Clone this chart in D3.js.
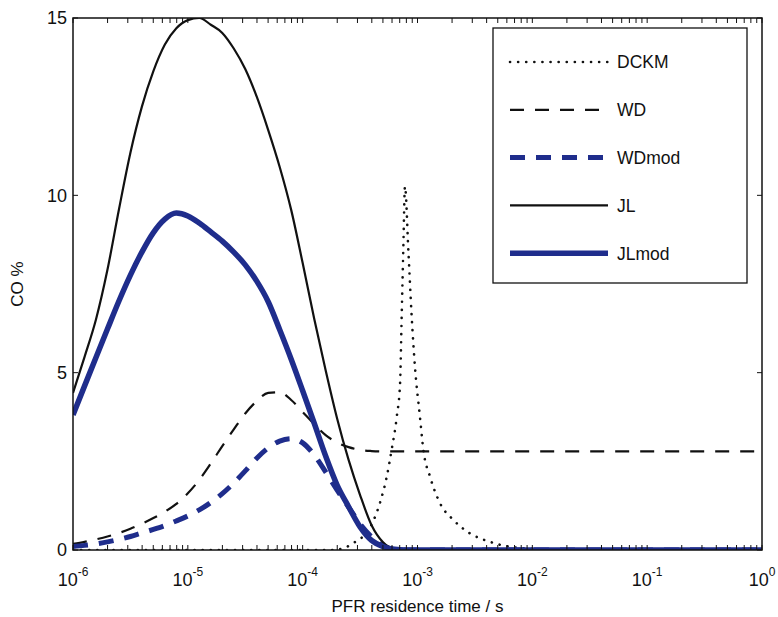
<!DOCTYPE html>
<html>
<head>
<meta charset="utf-8">
<script src="https://cdn.jsdelivr.net/npm/d3@7"></script>
<style>
  html, body { margin: 0; padding: 0; background: #fff; }
  svg { display: block; }
  text { font-family: "Liberation Sans", Arial, Helvetica, sans-serif; fill: #111; }
</style>
</head>
<body>
<svg id="chart" width="778" height="617"></svg>
<script>
// PFR residence time samples (s) shared by the WD / JL families
const sampleTime = [
  1.000e-6, 1.259e-6, 1.585e-6, 1.995e-6, 2.512e-6, 3.162e-6, 3.981e-6, 5.012e-6, 6.310e-6, 7.943e-6,
  1.000e-5, 1.259e-5, 1.585e-5, 1.995e-5, 2.512e-5, 3.162e-5, 3.981e-5, 5.012e-5, 6.310e-5, 7.943e-5,
  1.000e-4, 1.259e-4, 1.585e-4, 1.995e-4, 2.512e-4, 3.162e-4, 3.981e-4, 5.012e-4, 6.310e-4, 7.943e-4,
  1.000e-3, 1e-2, 1e-1, 1
];

// CO mole percent at each sample time
const wdCO = [0.17, 0.23, 0.3, 0.38, 0.48, 0.6, 0.74, 0.9, 1.08, 1.3,
  1.6, 1.98, 2.44, 2.93, 3.40, 3.85, 4.2, 4.43, 4.45, 4.23,
  3.89, 3.55, 3.24, 3.03, 2.9, 2.82, 2.79, 2.78, 2.78, 2.78,
  2.78, 2.78, 2.78, 2.78];
const wdModCO = [0.1, 0.13, 0.17, 0.23, 0.3, 0.38, 0.48, 0.58, 0.69, 0.82,
  0.96, 1.13, 1.34, 1.59, 1.89, 2.23, 2.59, 2.88, 3.07, 3.14,
  3.02, 2.68, 2.2, 1.69, 1.21, 0.73, 0.37, 0.13, 0.01, 0,
  0, 0, 0, 0];
const jlCO = [4.43, 5.44, 6.5, 7.9, 9.6, 11.2, 12.5, 13.5, 14.25, 14.71,
  14.94, 15.0, 14.81, 14.58, 14.14, 13.56, 12.78, 11.84, 10.8, 9.59,
  8.09, 6.53, 5.07, 3.71, 2.54, 1.55, 0.7, 0.22, 0.03, 0,
  0, 0, 0, 0];
const jlModCO = [3.81, 4.62, 5.43, 6.23, 7.02, 7.75, 8.4, 8.95, 9.33, 9.5,
  9.42, 9.22, 8.97, 8.71, 8.40, 8.04, 7.58, 7.0, 6.21, 5.38,
  4.49, 3.58, 2.65, 1.83, 1.22, 0.65, 0.27, 0.1, 0.02, 0,
  0, 0, 0, 0];

// detailed kinetic model: sharp CO spike near 1 ms
const dckmTime = [1e-6, 1.8e-4, 2.25e-4, 2.75e-4, 3.9e-4, 4.7e-4, 5.4e-4, 5.95e-4, 6.6e-4, 7.05e-4, 7.28e-4, 7.52e-4, 7.78e-4, 8.32e-4, 8.9e-4, 9.5e-4, 1.05e-3, 1.125e-3, 1.285e-3, 1.57e-3, 2.05e-3, 2.86e-3, 4.28e-3, 6.4e-3, 1.17e-2, 2e-2, 1];
const dckmCO   = [0, 0, 0.05, 0.19, 0.66, 1.32, 2.07, 2.82, 3.76, 4.7, 6.58, 8.46, 10.25, 8.46, 6.58, 5.17, 3.76, 2.82, 2.07, 1.32, 0.85, 0.47, 0.23, 0.09, 0.02, 0, 0];

const seriesNames = ["DCKM", "WD", "WDmod", "JL", "JLmod"];
const xTickExponents = [-6, -5, -4, -3, -2, -1, 0];
const yTickValues = [0, 5, 10, 15];

const BLUE = "#1f2d8c";
const BLACK = "#111";
const styles = {
  DCKM:  { color: BLACK, width: 2.6, dash: "0.1 8", cap: "round" },
  WD:    { color: BLACK, width: 2.2, dash: "14 11", cap: "butt" },
  WDmod: { color: BLUE,  width: 5,   dash: "15 11", cap: "butt" },
  JL:    { color: BLACK, width: 2.2, dash: null, cap: "butt" },
  JLmod: { color: BLUE,  width: 5.5, dash: null, cap: "butt" }
};

const series = [
  { name: "DCKM",  t: dckmTime,   v: dckmCO },
  { name: "WD",    t: sampleTime, v: wdCO },
  { name: "WDmod", t: sampleTime, v: wdModCO },
  { name: "JL",    t: sampleTime, v: jlCO },
  { name: "JLmod", t: sampleTime, v: jlModCO }
];

const margin = { left: 73, right: 16, top: 18, bottom: 67 };
const W = 778, H = 617;
const plotW = W - margin.left - margin.right;
const plotH = H - margin.top - margin.bottom;

const x = d3.scaleLog().domain([1e-6, 1]).range([0, plotW]);
const y = d3.scaleLinear().domain([0, 15]).range([plotH, 0]);

const svg = d3.select("#chart");
const g = svg.append("g").attr("transform", `translate(${margin.left},${margin.top})`);

g.append("clipPath").attr("id", "plotClip")
  .append("rect").attr("width", plotW).attr("height", plotH);

// curves
const line = d3.line()
  .x(d => x(d[0]))
  .y(d => y(d[1]))
  .curve(d3.curveMonotoneX);

const curves = g.append("g").attr("clip-path", "url(#plotClip)");
series.forEach(s => {
  const st = styles[s.name];
  curves.append("path")
    .datum(d3.zip(s.t, s.v))
    .attr("d", line)
    .attr("fill", "none")
    .attr("stroke", st.color)
    .attr("stroke-width", st.width)
    .attr("stroke-linecap", st.cap)
    .attr("stroke-linejoin", "round")
    .attr("stroke-dasharray", st.dash);
});

// ticks on all four sides, pointing inward
const tickLen = 5;
const majorX = xTickExponents.map(e => Math.pow(10, e));
const minorX = [];
for (let e = -6; e < 0; e++) for (let m = 2; m <= 9; m++) minorX.push(m * Math.pow(10, e));
const allX = majorX.concat(minorX);

const ticks = g.append("g").attr("stroke", BLACK).attr("stroke-width", 1);
allX.forEach(t => {
  const px = x(t);
  ticks.append("line").attr("x1", px).attr("x2", px).attr("y1", plotH).attr("y2", plotH - tickLen);
  ticks.append("line").attr("x1", px).attr("x2", px).attr("y1", 0).attr("y2", tickLen);
});
yTickValues.forEach(v => {
  const py = y(v);
  ticks.append("line").attr("x1", 0).attr("x2", tickLen).attr("y1", py).attr("y2", py);
  ticks.append("line").attr("x1", plotW).attr("x2", plotW - tickLen).attr("y1", py).attr("y2", py);
});

// axes box
g.append("rect")
  .attr("width", plotW).attr("height", plotH)
  .attr("fill", "none").attr("stroke", BLACK).attr("stroke-width", 1.5);

// y tick labels
yTickValues.forEach(v => {
  g.append("text")
    .attr("x", -6).attr("y", y(v)).attr("dy", "0.36em")
    .attr("text-anchor", "end").attr("font-size", 18)
    .text(v);
});

// x tick labels as powers of ten
xTickExponents.forEach(e => {
  const t = g.append("text")
    .attr("x", x(Math.pow(10, e))).attr("y", plotH + 36)
    .attr("text-anchor", "middle").attr("font-size", 18);
  t.append("tspan").text("10");
  t.append("tspan").attr("dy", -10).attr("font-size", 12).text(String(e));
});

// axis titles
g.append("text")
  .attr("x", plotW / 2).attr("y", plotH + 62)
  .attr("text-anchor", "middle").attr("font-size", 17)
  .text("PFR residence time / s");

g.append("text")
  .attr("transform", `translate(${-50},${plotH / 2}) rotate(-90)`)
  .attr("text-anchor", "middle").attr("font-size", 17)
  .text("CO %");

// legend
const legend = svg.append("g").attr("transform", "translate(493,28)");
legend.append("rect")
  .attr("width", 254).attr("height", 255)
  .attr("fill", "#fff").attr("stroke", BLACK).attr("stroke-width", 1.3);

seriesNames.forEach((name, i) => {
  const st = styles[name];
  const ly = 34 + i * 47.8;
  legend.append("line")
    .attr("x1", 17).attr("x2", 115).attr("y1", ly).attr("y2", ly)
    .attr("stroke", st.color)
    .attr("stroke-width", st.width)
    .attr("stroke-linecap", st.cap)
    .attr("stroke-dasharray", st.dash);
  legend.append("text")
    .attr("x", 124).attr("y", ly).attr("dy", "0.36em")
    .attr("font-size", 17.5)
    .text(name);
});
</script>
</body>
</html>
